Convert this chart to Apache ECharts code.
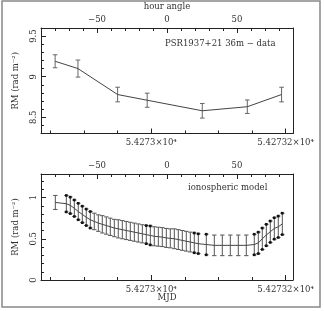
<!DOCTYPE html>
<html><head><meta charset="utf-8">
<script src="https://cdn.jsdelivr.net/npm/echarts@6/dist/echarts.min.js"></script>
<style>html,body{margin:0;padding:0;background:#fff}#c{width:324px;height:311px}</style>
</head><body><div id="c"></div>
<script>
// ---- data (top panel: measured RM) ----
const dataMJD = [54272.857, 54272.891, 54272.950, 54272.994, 54273.076, 54273.143, 54273.194];
const dataRM  = [9.19, 9.10, 8.78, 8.71, 8.58, 8.63, 8.78];
const dataErr = [0.08, 0.105, 0.09, 0.087, 0.09, 0.083, 0.09];
// ---- data (bottom panel: ionospheric model) ----
const modelMJD = [54272.8573, 54272.8737, 54272.8796, 54272.8856, 54272.8915, 54272.8975, 54272.9034, 54272.9094,
  54272.9153, 54272.9213, 54272.9272, 54272.9332, 54272.9391, 54272.9451, 54272.9510, 54272.9570, 54272.9629,
  54272.9689, 54272.9749, 54272.9808, 54272.9868, 54272.9927, 54272.9987, 54273.0046, 54273.0106, 54273.0165,
  54273.0225, 54273.0284, 54273.0344, 54273.0403, 54273.0463, 54273.0522, 54273.0582, 54273.0641, 54273.0701,
  54273.0820, 54273.0939, 54273.1058, 54273.1177, 54273.1296, 54273.1415, 54273.1534, 54273.1594, 54273.1653,
  54273.1713, 54273.1772, 54273.1832, 54273.1891, 54273.1951];
const modelRM = [0.94, 0.925, 0.905, 0.87, 0.83, 0.795, 0.76, 0.73, 0.71, 0.69, 0.675, 0.66, 0.645, 0.63, 0.62, 0.61,
  0.60, 0.59, 0.58, 0.57, 0.56, 0.55, 0.54, 0.53, 0.525, 0.52, 0.51, 0.505, 0.50, 0.49, 0.48, 0.47, 0.46, 0.45, 0.44,
  0.43, 0.42, 0.42, 0.42, 0.42, 0.42, 0.43, 0.45, 0.50, 0.545, 0.585, 0.625, 0.645, 0.68];
const modelErr = [0.085, 0.1, 0.1, 0.1, 0.1, 0.1, 0.1, 0.1, 0.1, 0.1, 0.105, 0.105, 0.105, 0.105, 0.11, 0.11,
  0.11, 0.11, 0.11, 0.11, 0.11, 0.11, 0.115, 0.115, 0.115, 0.115, 0.115, 0.115, 0.12, 0.12, 0.12, 0.12, 0.12, 0.12, 0.12,
  0.125, 0.125, 0.125, 0.125, 0.125, 0.125, 0.125, 0.13, 0.13, 0.13, 0.13, 0.13, 0.13, 0.13];
const modelDot = [0, 1, 1, 1, 1, 1, 1, 1, 0, 0, 0, 0, 0, 0, 0, 0, 0, 0, 0, 0, 0, 1, 1, 0, 0, 0, 0, 0, 0, 0, 0, 0, 0, 1, 1,
  1, 0, 0, 0, 0, 0, 1, 1, 1, 1, 1, 1, 1, 1];
// ---- axis tick spans [first, last, step] ----
const mjdMajor = [54273.0, 54273.2, 0.2];
const mjdMinor = [54272.85, 54273.2, 0.05];
const haMajor = [-50, 50, 50];
const haMinor = [-80, 80, 10];
const rmTopMajor = [8.5, 9.5, 0.5];
const rmTopMinor = [8.4, 9.5, 0.1];
const rmBotMajor = [0, 1, 0.5];
const rmBotMinor = [0, 1.2, 0.1];

const MJD_MIN = 54272.836, MJD_MAX = 54273.211;
const HA_MIN = -90, HA_MAX = 90;
const TOP_MIN = 8.3, TOP_MAX = 9.6, BOT_MIN = 0, BOT_MAX = 1.285;
const FONT = 'DejaVu Serif';
const AX = '#222';
const TXT = '#333';
const P1 = {left: 41, top: 28, width: 252, height: 105.5};
const P2 = {left: 41, top: 174, width: 252, height: 106};

function mjdFmt(v) {
  const s = (v / 1e4).toFixed(6).replace(/0+$/, '');
  return s + '×10⁴';
}
const haFmt = v => (v < 0 ? '\u2212' + Math.abs(v) : '' + v);
const txt = {fontFamily: FONT, fontSize: 8.5, color: TXT};

const grids = [], xAxes = [], yAxes = [];
function dummy(grid, pos) {
  return {type: 'value', gridIndex: grid, show: false, min: 0, max: 1, position: pos};
}
function noLine() { return {show: false, onZero: false}; }

function mainPanel(P, yMin, yMax, xName, topName) {
  const g = grids.length;
  grids.push(Object.assign({}, P));
  const xi = xAxes.length;
  xAxes.push({type: 'value', gridIndex: g, position: 'bottom', min: MJD_MIN, max: MJD_MAX,
    splitLine: {show: false}, axisLine: {show: true, onZero: false, lineStyle: {color: AX}},
    axisTick: {show: false}, axisLabel: {show: false},
    name: xName || '', nameLocation: 'middle', nameGap: 13, nameTextStyle: txt});
  xAxes.push({type: 'value', gridIndex: g, position: 'top', min: HA_MIN, max: HA_MAX,
    splitLine: {show: false}, axisLine: {show: true, onZero: false, lineStyle: {color: AX}},
    axisTick: {show: false}, axisLabel: {show: false},
    name: topName || '', nameLocation: 'middle', nameGap: 17, nameTextStyle: txt});
  const yi = yAxes.length;
  yAxes.push({type: 'value', gridIndex: g, position: 'left', min: yMin, max: yMax,
    splitLine: {show: false}, axisLine: {show: true, onZero: false, lineStyle: {color: AX}},
    axisTick: {show: false}, axisLabel: {show: false},
    name: 'RM (rad m\u207B\u00B2)', nameLocation: 'middle', nameRotate: 90, nameGap: 21, nameTextStyle: txt});
  yAxes.push({type: 'value', gridIndex: g, position: 'right', min: yMin, max: yMax,
    splitLine: {show: false}, axisLine: {show: true, onZero: false, lineStyle: {color: AX}},
    axisTick: {show: false}, axisLabel: {show: false}});
  return {xi: xi, yi: yi};
}
function xTicks(P, lo, hi, span, pos, len, labelFmt) {
  const a = span[0], b = span[1];
  const xa = P.left + (a - lo) / (hi - lo) * P.width;
  const xb = P.left + (b - lo) / (hi - lo) * P.width;
  const g = grids.length;
  grids.push({left: xa, width: xb - xa, top: P.top, height: P.height});
  xAxes.push({type: 'value', gridIndex: g, position: pos, min: a, max: b, interval: span[2],
    splitLine: {show: false}, axisLine: noLine(),
    axisTick: {show: true, inside: true, length: len, lineStyle: {color: AX}},
    axisLabel: labelFmt ? Object.assign({show: true, formatter: labelFmt, margin: pos === 'top' ? 3.5 : 5,
      showMinLabel: true, showMaxLabel: true}, txt) : {show: false}});
  yAxes.push(dummy(g, 'left'));
}
function yTicks(P, lo, hi, span, len, labels) {
  const a = span[0], b = span[1];
  const ya = P.top + (hi - a) / (hi - lo) * P.height;
  const yb = P.top + (hi - b) / (hi - lo) * P.height;
  const g = grids.length;
  grids.push({left: P.left, width: P.width, top: yb, height: ya - yb});
  yAxes.push({type: 'value', gridIndex: g, position: 'left', min: a, max: b, interval: span[2],
    splitLine: {show: false}, axisLine: noLine(),
    axisTick: {show: true, inside: true, length: len, lineStyle: {color: AX}},
    axisLabel: labels ? Object.assign({show: true, rotate: 90, margin: 3, showMinLabel: true, showMaxLabel: true}, txt)
      : {show: false}});
  xAxes.push(dummy(g, 'bottom'));
}

const m1 = mainPanel(P1, TOP_MIN, TOP_MAX, '', 'hour angle');
const m2 = mainPanel(P2, BOT_MIN, BOT_MAX, 'MJD', '');
[[P1, TOP_MIN, TOP_MAX, rmTopMajor, rmTopMinor], [P2, BOT_MIN, BOT_MAX, rmBotMajor, rmBotMinor]].forEach(function (c) {
  const P = c[0];
  xTicks(P, MJD_MIN, MJD_MAX, mjdMinor, 'bottom', 3, null);
  xTicks(P, MJD_MIN, MJD_MAX, mjdMajor, 'bottom', 5, mjdFmt);
  xTicks(P, HA_MIN, HA_MAX, haMinor, 'top', 3, null);
  xTicks(P, HA_MIN, HA_MAX, haMajor, 'top', 5, haFmt);
  yTicks(P, c[1], c[2], c[4], 3, false);
  yTicks(P, c[1], c[2], c[3], 5, true);
});

function errBars(capHalf, barColor, withDots) {
  return function (params, api) {
    const x = api.value(0), y = api.value(1), e = api.value(2), d = api.value(3);
    const p1 = api.coord([x, y + e]);
    const p2 = api.coord([x, y - e]);
    const st = {stroke: barColor, lineWidth: 1};
    const ch = [
      {type: 'line', shape: {x1: p1[0], y1: p1[1], x2: p2[0], y2: p2[1]}, style: st},
      {type: 'line', shape: {x1: p1[0] - capHalf, y1: p1[1], x2: p1[0] + capHalf, y2: p1[1]}, style: st},
      {type: 'line', shape: {x1: p2[0] - capHalf, y1: p2[1], x2: p2[0] + capHalf, y2: p2[1]}, style: st}
    ];
    if (withDots && d) {
      ch.push({type: 'rect', shape: {x: p1[0] - 1.3, y: p1[1] - 1.3, width: 2.6, height: 2.6}, style: {fill: '#111'}});
      ch.push({type: 'rect', shape: {x: p2[0] - 1.3, y: p2[1] - 1.3, width: 2.6, height: 2.6}, style: {fill: '#111'}});
    }
    return {type: 'group', children: ch};
  };
}

const topPts = dataMJD.map((m, i) => [m, dataRM[i], dataErr[i], 0]);
const botPts = modelMJD.map((m, i) => [m, modelRM[i], modelErr[i], modelDot[i]]);

const chart = echarts.init(document.getElementById('c'), null, {renderer: 'canvas'});
chart.setOption({
  animation: false,
  backgroundColor: '#fff',
  grid: grids,
  xAxis: xAxes,
  yAxis: yAxes,
  series: [
    {type: 'line', xAxisIndex: m1.xi, yAxisIndex: m1.yi, data: topPts.map(p => [p[0], p[1]]),
      symbol: 'none', lineStyle: {color: '#444', width: 1}},
    {type: 'custom', xAxisIndex: m1.xi, yAxisIndex: m1.yi, data: topPts, renderItem: errBars(2.3, '#666', false)},
    {type: 'line', xAxisIndex: m2.xi, yAxisIndex: m2.yi, data: botPts.map(p => [p[0], p[1]]),
      symbol: 'none', lineStyle: {color: '#444', width: 1}},
    {type: 'custom', xAxisIndex: m2.xi, yAxisIndex: m2.yi, data: botPts, renderItem: errBars(2.2, '#555', true)}
  ],
  graphic: [
    {type: 'rect', shape: {x: 2, y: 1, width: 318, height: 306}, style: {fill: 'none', stroke: '#888', lineWidth: 1.5}, silent: true},
    {type: 'text', left: 165, top: 39, style: {text: 'PSR1937+21 36m \u2212 data', fontFamily: FONT, fontSize: 8.5, fill: TXT}},
    {type: 'text', left: 188, top: 183, style: {text: 'ionospheric model', fontFamily: FONT, fontSize: 8.5, fill: TXT}}
  ]
});
</script>
</body></html>
